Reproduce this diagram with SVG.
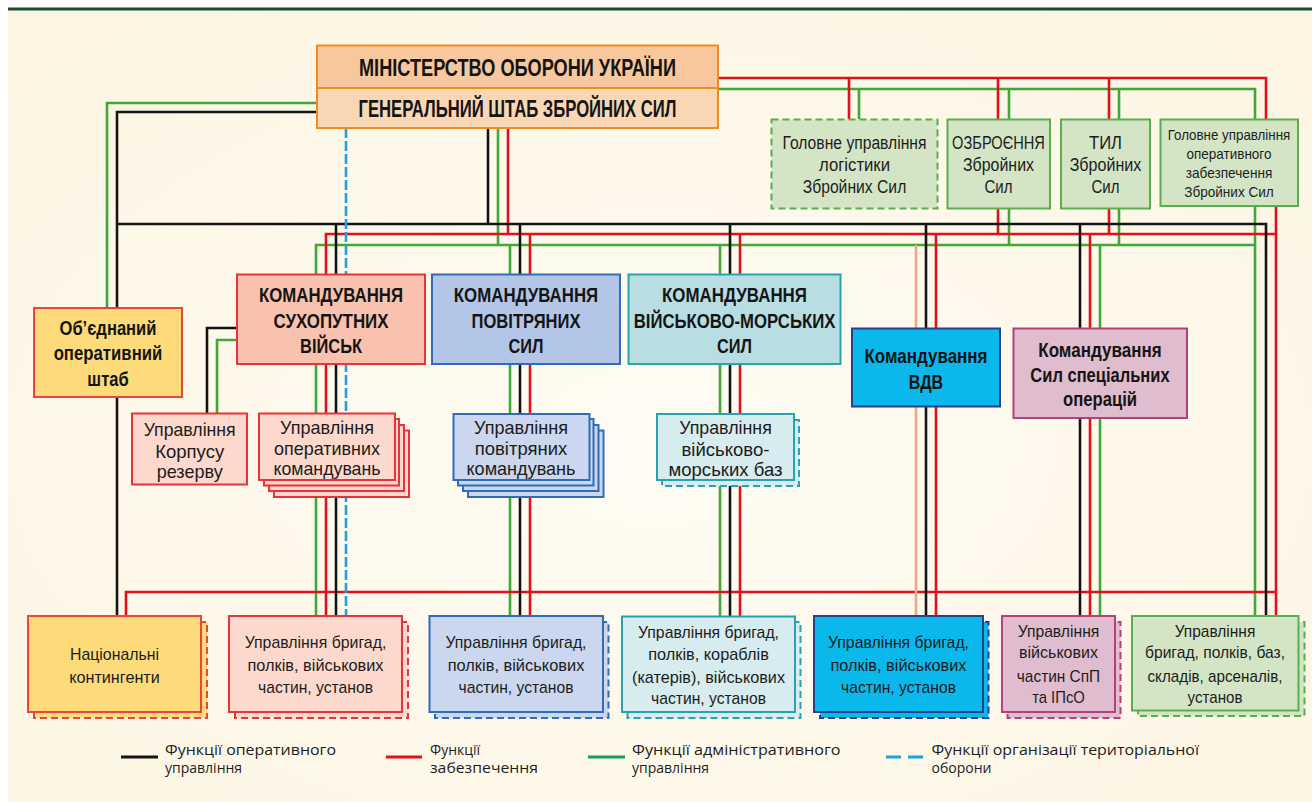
<svg xmlns="http://www.w3.org/2000/svg" width="1312" height="802" viewBox="0 0 1312 802">
<defs>
<radialGradient id="bg" cx="0.5" cy="0.55" r="0.7">
<stop offset="0" stop-color="#fffcf4"/>
<stop offset="1" stop-color="#fdf5e2"/>
</radialGradient>
<style>
.ln{fill:none;stroke-width:2.6;stroke-linejoin:miter;stroke-linecap:butt}
.k{stroke:#141414}
.r{stroke:#e3101c}
.g{stroke:#3fa83a}
.s{stroke:#f3a489}
.b{stroke:#1ba2df;stroke-dasharray:10 3}
.hb{font-family:"Liberation Sans",Arial,sans-serif;font-weight:bold;fill:#151515;text-anchor:middle}
.tx{font-family:"Liberation Sans",Arial,sans-serif;fill:#1c1c1c;text-anchor:middle}
.lg{font-family:"Open Sans","Noto Sans",sans-serif;font-size:14px;fill:#1c1c1c}
.mod{fill:#f7c89e;stroke:#ef8b20;stroke-width:2}
.gs{fill:#f9d7b5;stroke:#ef8b20;stroke-width:2}
.red1{fill:#f8c2ae;stroke:#e8333a;stroke-width:2}
.red2{fill:#fcd9cc;stroke:#e8333a;stroke-width:2}
.yel{fill:#fddb7a;stroke:#e8473e;stroke-width:2}
.blu1{fill:#b4c6e7;stroke:#2f6db5;stroke-width:2}
.blu2{fill:#cad7ee;stroke:#2f6db5;stroke-width:2}
.tea1{fill:#b8dde2;stroke:#2ba3ae;stroke-width:2}
.tea2{fill:#d6ecef;stroke:#2ba3ae;stroke-width:2}
.vdv{fill:#0bb8ec;stroke:#2b3f8f;stroke-width:2}
.sso{fill:#e0bccf;stroke:#b3407f;stroke-width:2}
.grn{fill:#d4e5c6;stroke:#5aae4f;stroke-width:2}
.dash{stroke-dasharray:7 4}
</style>
</defs>
<rect x="0" y="0" width="1312" height="802" fill="#ffffff"/>
<rect x="8" y="10" width="1304" height="792" fill="url(#bg)"/>
<line x1="8" y1="9" x2="1312" y2="9" stroke="#1d4a2a" stroke-width="3"/>

<g id="connectors">
<path class="ln g" d="M317,103 H107 V308"/>
<path class="ln g" d="M718,89 H1255 V119 M859,89 V119 M1009,89 V119 M1119,89 V119"/>
<path class="ln g" d="M498,128 V245 M316,616 V245 H1255 M1255,206 V616 M510,245 V616 M720,245 V616 M1100,245 V616 M1009,208 V245 M1119,208 V245"/>
<path class="ln g" d="M237,340 H217 V413"/>
<path class="ln r" d="M718,78 H1266 V119 M849,78 V119 M998,78 V119 M1109,78 V119"/>
<path class="ln r" d="M508,128 V234 M326,616 V234 H1276 V616 M1276,206 V234 M530,234 V616 M740,234 V616 M936,234 V616 M1090,234 V616 M998,208 V234 M1109,208 V234"/>
<path class="ln r" d="M126,616 V592 H1276"/>
<path class="ln k" d="M317,112 H117 V616 M488,128 V224 M117,224 H1266 V616 M336,224 V616 M520,224 V616 M730,224 V616 M926,224 V616 M1080,224 V616"/>
<path class="ln k" d="M237,328 H207 V413"/>
<path class="ln s" d="M916,245 V616"/>
<path class="ln b" d="M346,128 V616"/>
</g>

<g id="mod">
<rect class="mod" x="317" y="45.5" width="401" height="42.5"/>
<text class="hb" x="517.5" y="76" font-size="23" textLength="317" lengthAdjust="spacingAndGlyphs">МІНІСТЕРСТВО ОБОРОНИ УКРАЇНИ</text>
</g>
<g id="genshtab">
<rect class="gs" x="317" y="88" width="401" height="40"/>
<text class="hb" x="517.5" y="117" font-size="23" textLength="318" lengthAdjust="spacingAndGlyphs">ГЕНЕРАЛЬНИЙ ШТАБ ЗБРОЙНИХ СИЛ</text>
</g>

<g id="gul">
<rect class="grn dash" x="771.5" y="119.5" width="166" height="89"/>
<text class="tx" font-size="18"><tspan x="854.5" y="149.3" textLength="144" lengthAdjust="spacingAndGlyphs">Головне управління</tspan><tspan x="854.5" y="171" textLength="71" lengthAdjust="spacingAndGlyphs">логістики</tspan><tspan x="854.5" y="193.3" textLength="103.6" lengthAdjust="spacingAndGlyphs">Збройних Сил</tspan></text>
</g>
<g id="ozbr">
<rect class="grn" x="947.5" y="119.5" width="102.5" height="89"/>
<text class="tx" font-size="18"><tspan x="998.5" y="149.3" textLength="92.8" lengthAdjust="spacingAndGlyphs">ОЗБРОЄННЯ</tspan><tspan x="998.5" y="171" textLength="71" lengthAdjust="spacingAndGlyphs">Збройних</tspan><tspan x="998.5" y="193.3" textLength="28" lengthAdjust="spacingAndGlyphs">Сил</tspan></text>
</g>
<g id="tyl">
<rect class="grn" x="1061" y="119.5" width="89" height="89"/>
<text class="tx" font-size="18"><tspan x="1105.5" y="149.3" textLength="33" lengthAdjust="spacingAndGlyphs">ТИЛ</tspan><tspan x="1105.5" y="171" textLength="71.7" lengthAdjust="spacingAndGlyphs">Збройних</tspan><tspan x="1105.5" y="193.3" textLength="28" lengthAdjust="spacingAndGlyphs">Сил</tspan></text>
</g>
<g id="guoz">
<rect class="grn" x="1160.5" y="119.5" width="137.5" height="86.5"/>
<text class="tx" font-size="15"><tspan x="1229" y="140" textLength="122.5" lengthAdjust="spacingAndGlyphs">Головне управління</tspan><tspan x="1229" y="159.3" textLength="85" lengthAdjust="spacingAndGlyphs">оперативного</tspan><tspan x="1229" y="178.3" textLength="86.7" lengthAdjust="spacingAndGlyphs">забезпечення</tspan><tspan x="1229" y="197.3" textLength="89.6" lengthAdjust="spacingAndGlyphs">Збройних Сил</tspan></text>
</g>

<g id="osh">
<rect class="yel" x="34" y="308" width="148" height="89"/>
<text class="hb" font-size="20"><tspan x="108" y="335" textLength="97" lengthAdjust="spacingAndGlyphs">Об’єднаний</tspan><tspan x="108" y="360" textLength="108.7" lengthAdjust="spacingAndGlyphs">оперативний</tspan><tspan x="108" y="386" textLength="41.3" lengthAdjust="spacingAndGlyphs">штаб</tspan></text>
</g>

<g id="ksv">
<rect class="red1" x="237" y="274.5" width="188" height="89.5"/>
<text class="hb" font-size="20"><tspan x="331" y="302" textLength="144" lengthAdjust="spacingAndGlyphs">КОМАНДУВАННЯ</tspan><tspan x="331" y="327.7" textLength="115" lengthAdjust="spacingAndGlyphs">СУХОПУТНИХ</tspan><tspan x="331" y="353.3" textLength="62" lengthAdjust="spacingAndGlyphs">ВІЙСЬК</tspan></text>
</g>
<g id="kps">
<rect class="blu1" x="432" y="274.5" width="188" height="89.5"/>
<text class="hb" font-size="20"><tspan x="526" y="302" textLength="144.5" lengthAdjust="spacingAndGlyphs">КОМАНДУВАННЯ</tspan><tspan x="526" y="327.7" textLength="109" lengthAdjust="spacingAndGlyphs">ПОВІТРЯНИХ</tspan><tspan x="526" y="353.3" textLength="35" lengthAdjust="spacingAndGlyphs">СИЛ</tspan></text>
</g>
<g id="kvms">
<rect class="tea1" x="628.5" y="274.5" width="212" height="89.5"/>
<text class="hb" font-size="20"><tspan x="734.5" y="302" textLength="145" lengthAdjust="spacingAndGlyphs">КОМАНДУВАННЯ</tspan><tspan x="734.5" y="327.7" textLength="201.7" lengthAdjust="spacingAndGlyphs">ВІЙСЬКОВО-МОРСЬКИХ</tspan><tspan x="734.5" y="353.3" textLength="35" lengthAdjust="spacingAndGlyphs">СИЛ</tspan></text>
</g>
<g id="kvdv">
<rect class="vdv" x="852" y="328.5" width="148" height="78"/>
<text class="hb" font-size="20"><tspan x="926" y="363.3" textLength="123" lengthAdjust="spacingAndGlyphs">Командування</tspan><tspan x="926" y="389.3" textLength="34.4" lengthAdjust="spacingAndGlyphs">ВДВ</tspan></text>
</g>
<g id="ksso">
<rect class="sso" x="1013.5" y="328.5" width="173.5" height="89.5"/>
<text class="hb" font-size="20"><tspan x="1100" y="356.7" textLength="123.4" lengthAdjust="spacingAndGlyphs">Командування</tspan><tspan x="1100" y="381.7" textLength="139.3" lengthAdjust="spacingAndGlyphs">Сил спеціальних</tspan><tspan x="1100" y="406" textLength="74" lengthAdjust="spacingAndGlyphs">операцій</tspan></text>
</g>

<g id="korpus">
<rect class="red2" x="132" y="413.5" width="115" height="71"/>
<text class="tx" font-size="19"><tspan x="189.7" y="436" textLength="92" lengthAdjust="spacingAndGlyphs">Управління</tspan><tspan x="189.7" y="458.3" textLength="69" lengthAdjust="spacingAndGlyphs">Корпусу</tspan><tspan x="189.7" y="478.3" textLength="66" lengthAdjust="spacingAndGlyphs">резерву</tspan></text>
</g>
<g id="opkom">
<rect class="red2" x="274" y="430.5" width="135" height="66.5"/>
<rect class="red2" x="269" y="425" width="135" height="66"/>
<rect class="red2" x="264" y="419" width="135" height="66.5"/>
<rect class="red2" x="259" y="413.5" width="136" height="66.5"/>
<text class="tx" font-size="19"><tspan x="327" y="434" textLength="94" lengthAdjust="spacingAndGlyphs">Управління</tspan><tspan x="327" y="455" textLength="106" lengthAdjust="spacingAndGlyphs">оперативних</tspan><tspan x="327" y="475" textLength="107" lengthAdjust="spacingAndGlyphs">командувань</tspan></text>
</g>
<g id="povkom">
<rect class="blu2" x="468" y="430.5" width="135.5" height="66.5"/>
<rect class="blu2" x="463" y="425" width="135.5" height="66"/>
<rect class="blu2" x="458" y="419" width="135.5" height="66.5"/>
<rect class="blu2" x="453.5" y="414" width="136" height="66"/>
<text class="tx" font-size="19"><tspan x="521" y="434" textLength="94" lengthAdjust="spacingAndGlyphs">Управління</tspan><tspan x="521" y="455" textLength="92.7" lengthAdjust="spacingAndGlyphs">повітряних</tspan><tspan x="521" y="475" textLength="109" lengthAdjust="spacingAndGlyphs">командувань</tspan></text>
</g>
<g id="vmbaz">
<rect class="tea2 dash" x="662" y="420" width="137" height="66"/>
<rect class="tea2" x="657" y="414" width="137" height="66"/>
<text class="tx" font-size="19"><tspan x="725.5" y="434" textLength="92.7" lengthAdjust="spacingAndGlyphs">Управління</tspan><tspan x="725.5" y="456" textLength="88" lengthAdjust="spacingAndGlyphs">військово-</tspan><tspan x="725.5" y="476" textLength="114" lengthAdjust="spacingAndGlyphs">морських баз</tspan></text>
</g>

<g id="natkont">
<rect class="yel dash" x="34" y="622" width="173" height="96"/>
<rect class="yel" x="28" y="616" width="173" height="96"/>
<text class="tx" font-size="17"><tspan x="114.5" y="660" textLength="89" lengthAdjust="spacingAndGlyphs">Національні</tspan><tspan x="114.5" y="682.7" textLength="90.7" lengthAdjust="spacingAndGlyphs">контингенти</tspan></text>
</g>
<g id="brig-sv">
<rect class="red2 dash" x="235" y="622" width="173" height="96"/>
<rect class="red2" x="229" y="616" width="173" height="96"/>
<text class="tx" font-size="17"><tspan x="315.5" y="648.3" textLength="141.7" lengthAdjust="spacingAndGlyphs">Управління бригад,</tspan><tspan x="315.5" y="670.7" textLength="136" lengthAdjust="spacingAndGlyphs">полків, військових</tspan><tspan x="315.5" y="693.3" textLength="115" lengthAdjust="spacingAndGlyphs">частин, установ</tspan></text>
</g>
<g id="brig-ps">
<rect class="blu2 dash" x="435" y="622" width="173.5" height="96"/>
<rect class="blu2" x="429.5" y="616" width="173.5" height="96"/>
<text class="tx" font-size="17"><tspan x="516" y="648.3" textLength="141" lengthAdjust="spacingAndGlyphs">Управління бригад,</tspan><tspan x="516" y="670.7" textLength="136.7" lengthAdjust="spacingAndGlyphs">полків, військових</tspan><tspan x="516" y="693.3" textLength="115" lengthAdjust="spacingAndGlyphs">частин, установ</tspan></text>
</g>
<g id="brig-vms">
<rect class="tea2 dash" x="627.5" y="622" width="173" height="96"/>
<rect class="tea2" x="622" y="616.5" width="173" height="95.5"/>
<text class="tx" font-size="17"><tspan x="708.5" y="637.7" textLength="141" lengthAdjust="spacingAndGlyphs">Управління бригад,</tspan><tspan x="708.5" y="660" textLength="120.7" lengthAdjust="spacingAndGlyphs">полків, кораблів</tspan><tspan x="708.5" y="682.7" textLength="153" lengthAdjust="spacingAndGlyphs">(катерів), військових</tspan><tspan x="708.5" y="704" textLength="115" lengthAdjust="spacingAndGlyphs">частин, установ</tspan></text>
</g>
<g id="brig-vdv">
<rect class="vdv dash" x="820" y="622" width="168.5" height="96"/>
<rect class="vdv" x="814" y="616" width="169" height="96"/>
<text class="tx" font-size="17"><tspan x="898.5" y="648.3" textLength="141" lengthAdjust="spacingAndGlyphs">Управління бригад,</tspan><tspan x="898.5" y="670.7" textLength="136" lengthAdjust="spacingAndGlyphs">полків, військових</tspan><tspan x="898.5" y="693.3" textLength="115" lengthAdjust="spacingAndGlyphs">частин, установ</tspan></text>
</g>
<g id="spp">
<rect class="sso dash" x="1007.5" y="622" width="113" height="96"/>
<rect class="sso" x="1002" y="616" width="113" height="96"/>
<text class="tx" font-size="17"><tspan x="1058.5" y="636.7" textLength="81.7" lengthAdjust="spacingAndGlyphs">Управління</tspan><tspan x="1058.5" y="658.3" textLength="79" lengthAdjust="spacingAndGlyphs">військових</tspan><tspan x="1058.5" y="681.7" textLength="83.3" lengthAdjust="spacingAndGlyphs">частин СпП</tspan><tspan x="1058.5" y="703.3" textLength="52.7" lengthAdjust="spacingAndGlyphs">та ІПсО</tspan></text>
</g>
<g id="brig-log">
<rect class="grn dash" x="1138" y="622" width="166.5" height="94"/>
<rect class="grn" x="1132" y="616" width="166.5" height="94.5"/>
<text class="tx" font-size="17"><tspan x="1215" y="636.7" textLength="80.7" lengthAdjust="spacingAndGlyphs">Управління</tspan><tspan x="1215" y="658.3" textLength="140" lengthAdjust="spacingAndGlyphs">бригад, полків, баз,</tspan><tspan x="1215" y="681.7" textLength="135" lengthAdjust="spacingAndGlyphs">складів, арсеналів,</tspan><tspan x="1215" y="703.3" textLength="55" lengthAdjust="spacingAndGlyphs">установ</tspan></text>
</g>

<g id="legend">
<line x1="121" y1="757" x2="158" y2="757" stroke="#141414" stroke-width="3"/>
<text class="lg"><tspan x="165" y="755" textLength="171" lengthAdjust="spacingAndGlyphs">Функції оперативного</tspan><tspan x="165" y="773">управління</tspan></text>
<line x1="386" y1="757" x2="422" y2="757" stroke="#e3101c" stroke-width="3"/>
<text class="lg"><tspan x="430" y="755">Функції</tspan><tspan x="430" y="773" textLength="108" lengthAdjust="spacingAndGlyphs">забезпечення</tspan></text>
<line x1="588" y1="757" x2="625" y2="757" stroke="#1b9a5c" stroke-width="3"/>
<text class="lg"><tspan x="632" y="755" textLength="208.6" lengthAdjust="spacingAndGlyphs">Функції адміністративного</tspan><tspan x="632" y="773">управління</tspan></text>
<line x1="886" y1="757" x2="924" y2="757" stroke="#1ba2df" stroke-width="3" stroke-dasharray="15 7"/>
<text class="lg"><tspan x="931.5" y="755" textLength="267.5" lengthAdjust="spacingAndGlyphs">Функції організації територіальної</tspan><tspan x="931.5" y="773">оборони</tspan></text>
</g>
</svg>
